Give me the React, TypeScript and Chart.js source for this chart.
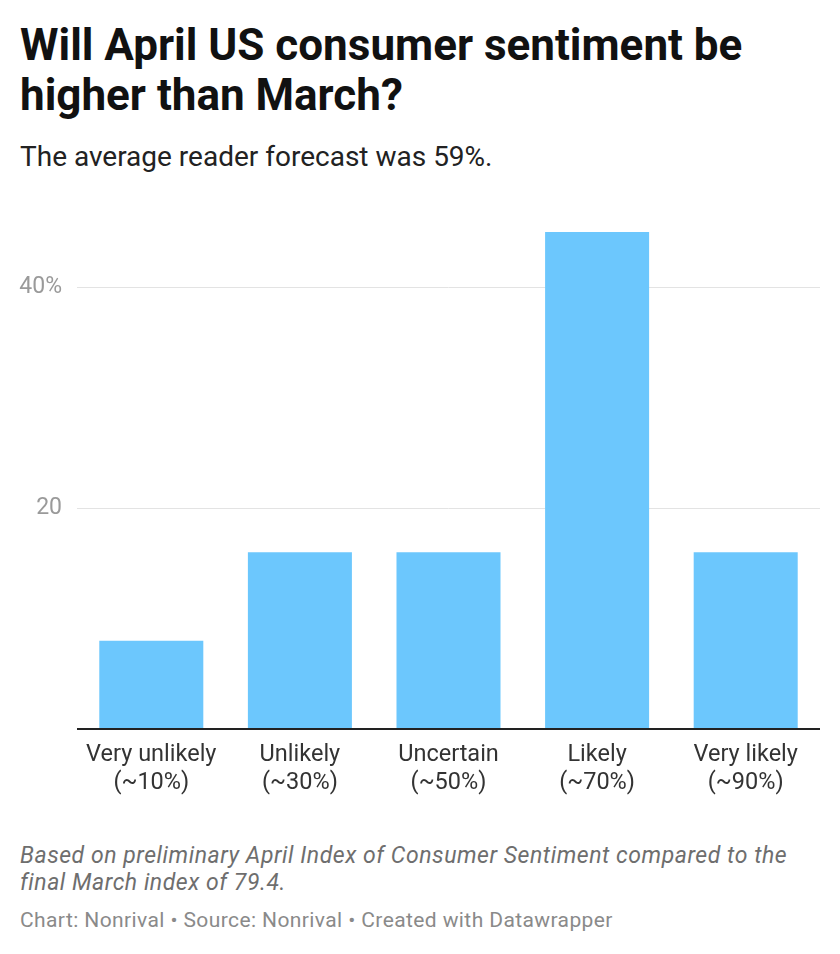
import React, { useEffect, useRef } from "react";
import { Chart, registerables } from "chart.js";

Chart.register(...registerables);

const categories: string[][] = [
  ["Very unlikely", "(~10%)"],
  ["Unlikely", "(~30%)"],
  ["Uncertain", "(~50%)"],
  ["Likely", "(~70%)"],
  ["Very likely", "(~90%)"],
];
const shares: number[] = [8, 16, 16, 45, 16];
const yTicks: number[] = [0, 20, 40];
const yTickLabels: string[] = ["", "20", "40%"];

const FONT = "Roboto, 'Noto Sans', sans-serif";

export default function App() {
  const ref = useRef<HTMLCanvasElement | null>(null);

  useEffect(() => {
    document.body.style.margin = "0";
    const canvas = ref.current;
    if (!canvas) return;
    const chart = new Chart(canvas, {
      type: "bar",
      data: {
        labels: categories,
        datasets: [
          {
            data: shares,
            backgroundColor: "#6cc7fd",
            barPercentage: 0.7,
            categoryPercentage: 1,
          },
        ],
      },
      options: {
        animation: false,
        responsive: false,
        maintainAspectRatio: false,
        layout: { padding: { top: 42, right: 20, left: 0, bottom: 0 } },
        plugins: { legend: { display: false }, tooltip: { enabled: false } },
        scales: {
          x: {
            grid: { display: false, drawTicks: false },
            border: { display: false },
            ticks: {
              color: "#333333",
              font: { family: FONT, size: 23.5, lineHeight: 1.19 },
              padding: 12,
              maxRotation: 0,
              autoSkip: false,
            },
            afterFit: (s: any) => {
              s.height = 81;
            },
          },
          y: {
            min: 0,
            max: 45,
            afterBuildTicks: (s: any) => {
              s.ticks = yTicks.map((v) => ({ value: v }));
            },
            grid: {
              drawTicks: false,
              color: (c: any) => (c.tick && c.tick.value === 0 ? "#222222" : "#e3e3e3"),
              lineWidth: (c: any) => (c.tick && c.tick.value === 0 ? 2 : 1),
            },
            border: { display: false },
            ticks: {
              color: "#9a9a9a",
              font: { family: FONT, size: 23 },
              padding: 15,
              callback: (_v: any, i: number) => yTickLabels[i],
            },
            afterFit: (s: any) => {
              s.width = 77;
            },
          },
        },
      },
    });
    return () => chart.destroy();
  }, []);

  return (
    <div style={{ position: "relative", width: 840, height: 954, background: "#fff", fontFamily: FONT }}>
      <div
        style={{
          position: "absolute",
          left: 20,
          top: 20,
          width: 810,
          fontSize: 44,
          fontWeight: 700,
          lineHeight: "50px",
          color: "#111",
          whiteSpace: "nowrap",
        }}
      >
        Will April US consumer sentiment be
        <br />
        higher than March?
      </div>
      <div
        style={{ position: "absolute", left: 20, top: 139, fontSize: 28, color: "#222", lineHeight: "36px", whiteSpace: "nowrap" }}
      >
        The average reader forecast was 59%.
      </div>
      <canvas ref={ref} width={840} height={620} style={{ position: "absolute", left: 0, top: 190, width: 840, height: 620 }} />
      <div
        style={{
          position: "absolute",
          left: 20,
          top: 842,
          fontSize: 23,
          fontStyle: "italic",
          color: "#6e6e6e",
          lineHeight: "27px",
          letterSpacing: 0.55,
          whiteSpace: "nowrap",
        }}
      >
        Based on preliminary April Index of Consumer Sentiment compared to the
        <br />
        final March index of 79.4.
      </div>
      <div
        style={{
          position: "absolute",
          left: 20,
          top: 907,
          fontSize: 21,
          color: "#8a8a8a",
          lineHeight: "26px",
          letterSpacing: 0.4,
          whiteSpace: "nowrap",
        }}
      >
        Chart: Nonrival • Source: Nonrival • Created with Datawrapper
      </div>
    </div>
  );
}
